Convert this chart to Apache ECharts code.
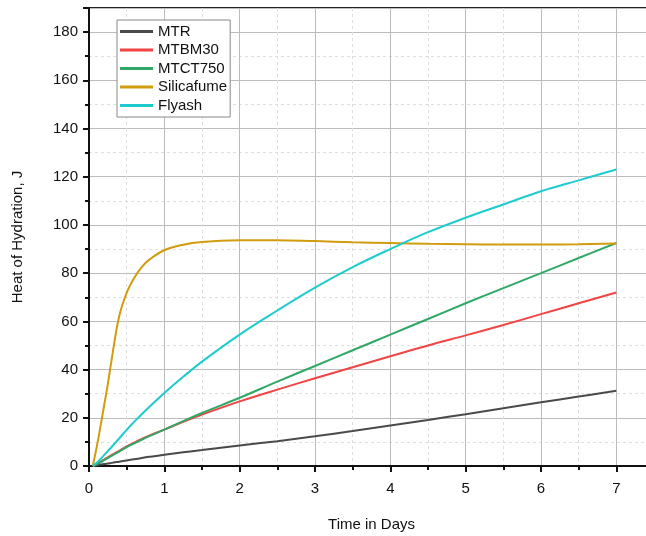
<!DOCTYPE html>
<html>
<head>
<meta charset="utf-8">
<script src="https://cdn.jsdelivr.net/npm/echarts@6/dist/echarts.min.js"></script>
<style>html,body{margin:0;padding:0;background:#fff}#c{width:646px;height:536px}</style>
</head>
<body>
<div id="c"></div>
<script>
const days = [0.05,0.1,0.15,0.2,0.25,0.3,0.4,0.5,0.6,0.7,0.8,1,1.25,1.5,2,2.5,3,3.5,4,4.5,5,5.5,6,6.5,7];
const MTR = [0,0.3,0.6,0.8,1.0,1.3,1.8,2.3,2.8,3.3,3.8,4.7,5.7,6.6,8.5,10.3,12.3,14.5,16.8,19.1,21.5,24,26.4,28.8,31.2];
const MTBM30 = [0,0.8,1.7,2.7,3.6,4.5,6.3,8.1,9.7,11.2,12.6,15.1,18.3,21.3,26.8,31.7,36.4,41,45.5,50,54.2,58.5,63,67.5,72];
const MTCT750 = [0,0.7,1.5,2.4,3.3,4.2,6.0,7.8,9.4,10.9,12.4,15.1,18.6,22,28.3,35,41.5,48,54.5,61,67.5,73.8,80,86.3,92.5];
const Silicafume = [0,7.5,16,25,34,44,62,71.8,78,82.5,85.6,89.5,91.8,92.9,93.6,93.7,93.3,92.8,92.5,92.2,92,91.9,91.9,92,92.3];
const Flyash = [0,1.2,2.8,4.5,6.2,7.9,11.4,15,18.3,21.5,24.5,30.3,37,43.3,54.5,64.5,74,82.5,90,97,103,108.5,114,118.5,123];
const names = ['MTR','MTBM30','MTCT750','Silicafume','Flyash'];
const values = [MTR, MTBM30, MTCT750, Silicafume, Flyash];
const colors = ['#4a4a4a','#f24444','#2fa866','#d19c0e','#1ecbcf'];
const font = 'Liberation Sans, Arial, sans-serif';

const chart = echarts.init(document.getElementById('c'));
chart.setOption({
  animation: false,
  grid: {left: 89, top: 8, width: 565, height: 458, outerBoundsMode: 'none', containLabel: false,
         show: true, borderColor: '#222', borderWidth: 2, backgroundColor: 'transparent'},
  legend: {
    orient: 'vertical', left: 117, top: 20,
    data: names, icon: 'rect', itemWidth: 33, itemHeight: 3, itemGap: 3.5,
    borderColor: '#888', borderWidth: 1, padding: [4, 3, 4, 3], backgroundColor: '#fff',
    textStyle: {fontFamily: font, fontSize: 15, color: '#111'}
  },
  xAxis: {
    type: 'value', min: 0, max: 7.5, interval: 1,
    name: 'Time in Days', nameLocation: 'middle', nameGap: 51,
    nameTextStyle: {fontFamily: font, fontSize: 15, color: '#111'},
    axisLine: {show: true, onZero: false, lineStyle: {color: '#111', width: 2}},
    axisTick: {show: true, inside: false, length: 6, lineStyle: {color: '#111', width: 2}},
    minorTick: {show: true, splitNumber: 2, length: 4, lineStyle: {color: '#111', width: 2}},
    axisLabel: {fontFamily: font, fontSize: 15, color: '#111', margin: 15, showMaxLabel: false},
    splitLine: {show: true, lineStyle: {color: '#bcbcbc', width: 1}},
    minorSplitLine: {show: true, lineStyle: {color: '#dedede', width: 1, type: [3, 3]}}
  },
  yAxis: {
    type: 'value', min: 0, max: 190, interval: 20,
    name: 'Heat of Hydration, J', nameLocation: 'middle', nameGap: 64,
    nameTextStyle: {fontFamily: font, fontSize: 15, color: '#111'},
    axisLine: {show: true, lineStyle: {color: '#111', width: 2}},
    axisTick: {show: true, length: 6, lineStyle: {color: '#111', width: 2}},
    minorTick: {show: true, splitNumber: 2, length: 4, lineStyle: {color: '#111', width: 2}},
    axisLabel: {fontFamily: font, fontSize: 15, color: '#111', margin: 11, showMaxLabel: false},
    splitLine: {show: true, lineStyle: {color: '#bcbcbc', width: 1}},
    minorSplitLine: {show: true, lineStyle: {color: '#dedede', width: 1, type: [3, 3]}}
  },
  series: names.map((n, i) => ({
    name: n, type: 'line', symbol: 'none', smooth: 0.4,
    color: colors[i],
    lineStyle: {width: 2, color: colors[i]},
    itemStyle: {color: colors[i]},
    data: days.map((d, j) => [d, values[i][j]])
  }))
});
</script>
</body>
</html>
